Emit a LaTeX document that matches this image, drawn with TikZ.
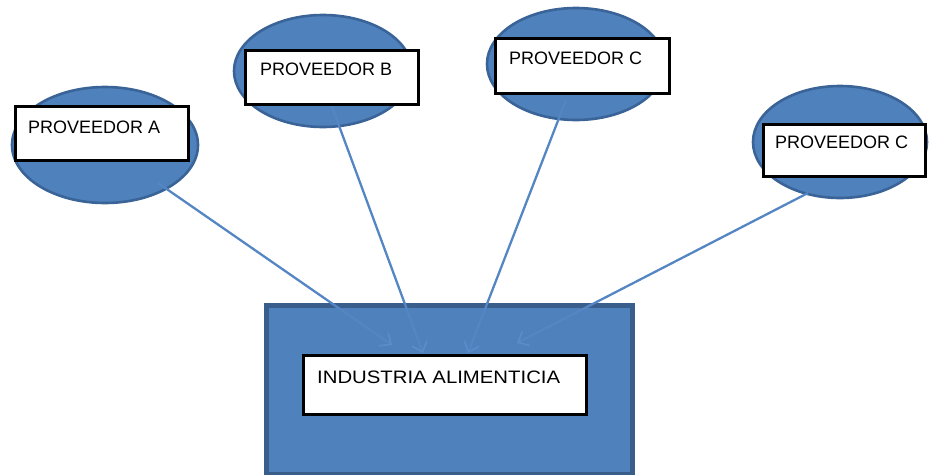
\documentclass[tikz,border=0pt]{standalone}
\usepackage{fontspec}
\usepackage{graphicx}
\setmainfont{Liberation Sans}
\usetikzlibrary{shapes.geometric,arrows.meta}
\definecolor{fillblue}{HTML}{4F81BD}
\definecolor{edgeblue}{HTML}{3A6397}
\definecolor{rectedge}{HTML}{3A5E8C}
\definecolor{lineblue}{HTML}{5586C4}
\definecolor{tipblue}{HTML}{5C8DCB}
\tikzset{
  prov/.style={ellipse, fill=fillblue, draw=edgeblue, line width=2.6pt, inner sep=0pt},
  labelbox/.style={rectangle, fill=white, draw=black, line width=2.6pt, inner sep=0pt, anchor=north west},
  labeltext/.style={anchor=base west, inner sep=0pt, font=\fontsize{18}{21}\selectfont},
  link/.style={draw=lineblue, line width=2.3pt, -{Straight Barb[length=9pt,width=16pt,line width=1.6pt,color=tipblue]}}
}
\begin{document}
\begin{tikzpicture}[x=1pt,y=-1pt]
\useasboundingbox (0,0) rectangle (929,474);
% ellipses
\node[prov, minimum width=186pt, minimum height=116pt] (ellA) at (105,145) {};
\node[prov, minimum width=178pt, minimum height=112pt] (ellB) at (323,71) {};
\node[prov, minimum width=178pt, minimum height=112pt] (ellC) at (576,64) {};
\node[prov, minimum width=174pt, minimum height=112pt] (ellD) at (840,142) {};
% big rectangle
\node[rectangle, fill=fillblue, draw=rectedge, line width=5pt, anchor=north west,
      minimum width=366pt, minimum height=169pt, inner sep=0pt] (ind) at (264,303) {};
% connector endpoints
\coordinate (sA) at (158,183);
\coordinate (sB) at (331,104);
\coordinate (sC) at (566,100);
\coordinate (sD) at (808,193);
\coordinate (tA) at (392,345);
\coordinate (tB) at (423,353);
\coordinate (tC) at (468,353);
\coordinate (tD) at (517,343);
\draw[link] (sA) -- (tA);
\draw[link] (sB) -- (tB);
\draw[link] (sC) -- (tC);
\draw[link] (sD) -- (tD);
% label boxes
\node[labelbox, minimum width=173pt, minimum height=54pt] (boxA) at (14,105) {};
\node[labelbox, minimum width=173pt, minimum height=54pt] (boxB) at (244,49) {};
\node[labelbox, minimum width=174pt, minimum height=55pt] (boxC) at (494,37) {};
\node[labelbox, minimum width=162pt, minimum height=52pt] (boxD) at (762,123) {};
\node[labelbox, minimum width=283pt, minimum height=59pt] (boxI) at (302,354) {};
% texts
\node[labeltext] (tA1) at (28,133) {PROVEEDOR A};
\node[labeltext] (tB1) at (260,75) {PROVEEDOR B};
\node[labeltext] (tC1) at (509,64) {PROVEEDOR C};
\node[labeltext] (tD1) at (775,148) {PROVEEDOR C};
\node[labeltext] (tI1) at (317,383) {\scalebox{1.13}[1]{INDUSTRIA ALIMENTICIA}};
\end{tikzpicture}
\end{document}
